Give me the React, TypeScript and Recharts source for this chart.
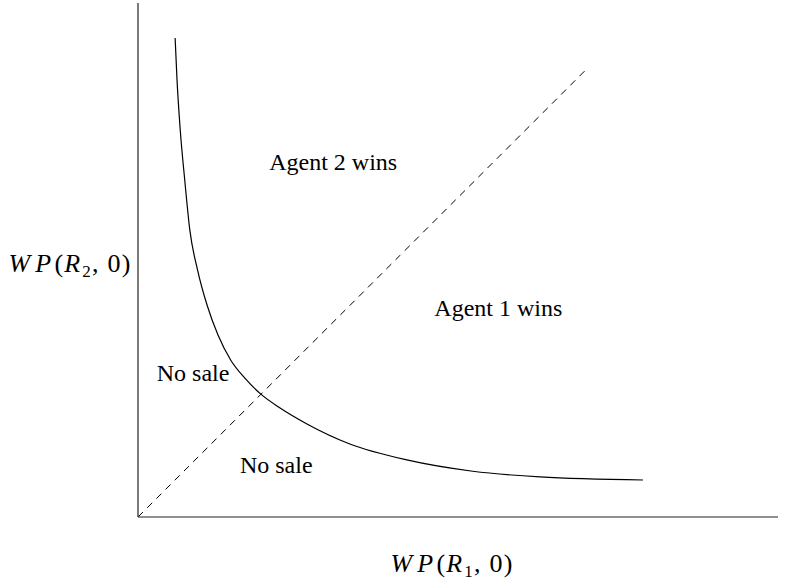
import React from 'react';
import {
  LineChart,
  Line,
  XAxis,
  YAxis,
  ReferenceDot,
  Label
} from 'recharts';

// boundary between "no sale" and a winner
const curveX = [0.58, 0.61, 0.66, 0.73, 0.81, 0.93, 1.08, 1.25, 1.45, 1.67, 1.92, 2.22, 2.64, 3.31, 4.2, 5.23, 6.28, 7.89];
const curveY = [9.32, 8.5, 7.53, 6.56, 5.58, 4.81, 4.12, 3.54, 3.05, 2.7, 2.39, 2.12, 1.81, 1.42, 1.11, 0.89, 0.78, 0.72];

// 45 degree line WP(R1,0) = WP(R2,0)
const diagX = [0, 7.03];
const diagY = [0, 8.74];

const regionNames = ['Agent 2 wins', 'Agent 1 wins', 'No sale', 'No sale'];

const curveData = curveX.map((x, i) => ({ x, y: curveY[i] }));
const diagData = diagX.map((x, i) => ({ x, y: diagY[i] }));

const FONT = '"Liberation Serif", "Times New Roman", serif';

// where each region label sits, in chart units
const regionSpots = [
  { x: 3.05, y: 6.91 },
  { x: 5.63, y: 4.07 },
  { x: 0.86, y: 2.8 },
  { x: 2.16, y: 1.01 }
];

const MathLabel = ({ x, y, sub }: { x: number; y: number; sub: string }) => (
  <text
    x={x}
    y={y}
    textAnchor="middle"
    fontFamily={FONT}
    fontSize={26}
    letterSpacing={1.2}
    fill="#000"
  >
    <tspan fontStyle="italic">W</tspan>
    <tspan fontStyle="italic" dx={4}>P</tspan>
    <tspan dx={2}>(</tspan>
    <tspan fontStyle="italic">R</tspan>
    <tspan fontSize={17} dy={5} dx={1}>{sub}</tspan>
    <tspan dy={-5}>, 0)</tspan>
  </text>
);

export default function App() {
  return (
    <div style={{ position: 'absolute', left: 0, top: 0, background: '#fff' }}>
      <LineChart
        width={788}
        height={581}
        margin={{ top: 3, right: 10, bottom: 4, left: 8 }}
      >
        <XAxis
          type="number"
          dataKey="x"
          domain={[0, 10]}
          height={60}
          tick={false}
          tickLine={false}
          axisLine={{ stroke: '#222', strokeWidth: 1.2 }}
          allowDataOverflow
        >
          <Label
            content={(props: any) => {
              const vb = props.viewBox;
              return <MathLabel x={vb.x + vb.width / 2 - 6} y={vb.y + 55} sub="1" />;
            }}
          />
        </XAxis>
        <YAxis
          type="number"
          dataKey="y"
          domain={[0, 10]}
          width={130}
          tick={false}
          tickLine={false}
          axisLine={{ stroke: '#222', strokeWidth: 1.2 }}
          allowDataOverflow
        >
          <Label
            content={(props: any) => {
              const vb = props.viewBox;
              return <MathLabel x={vb.x + vb.width - 68} y={vb.y + vb.height / 2 + 12} sub="2" />;
            }}
          />
        </YAxis>
        <Line
          data={diagData}
          dataKey="y"
          type="linear"
          stroke="#000"
          strokeWidth={1}
          strokeDasharray="7 6"
          dot={false}
          isAnimationActive={false}
        />
        <Line
          data={curveData}
          dataKey="y"
          type="monotone"
          stroke="#000"
          strokeWidth={1.2}
          dot={false}
          isAnimationActive={false}
        />
        {regionNames.map((name, i) => (
          <ReferenceDot
            key={i}
            x={regionSpots[i].x}
            y={regionSpots[i].y}
            r={0}
            fill="none"
            stroke="none"
            label={{
              content: (props: any) => {
                const vb = props.viewBox || {};
                return (
                  <text
                    x={vb.x + (vb.width || 0) / 2}
                    y={vb.y + (vb.height || 0) / 2 + 8}
                    textAnchor="middle"
                    fontFamily={FONT}
                    fontSize={24}
                    fill="#000"
                  >
                    {name}
                  </text>
                );
              }
            }}
          />
        ))}
      </LineChart>
    </div>
  );
}
